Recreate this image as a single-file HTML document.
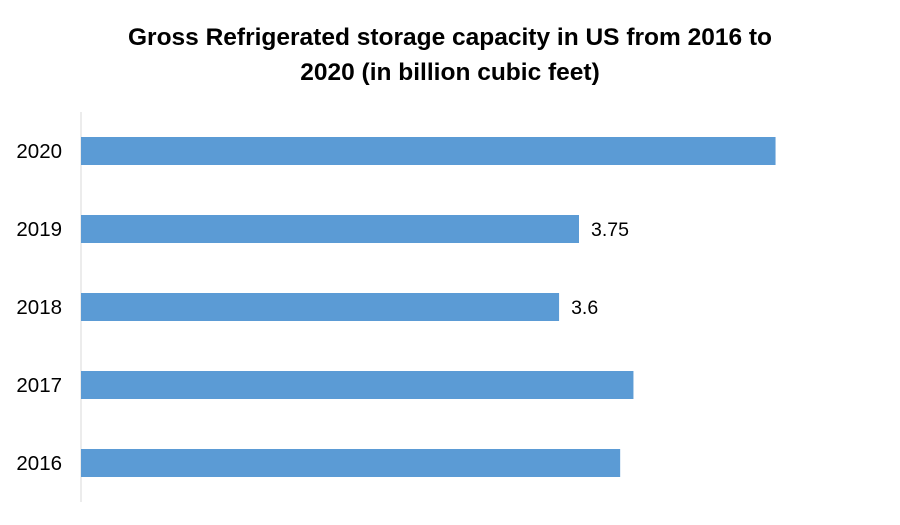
<!DOCTYPE html>
<html><head><meta charset="utf-8"><style>
body{margin:0;background:#fff;}
svg{display:block;font-family:"Liberation Sans",sans-serif;}
</style></head><body>
<svg id="chart" width="900" height="525">
<text x="450" y="45" text-anchor="middle" font-size="24.5" font-weight="bold" fill="#000">Gross Refrigerated storage capacity in US from 2016 to</text>
<text x="450" y="80" text-anchor="middle" font-size="24.5" font-weight="bold" fill="#000">2020 (in billion cubic feet)</text>
<line x1="81" y1="112" x2="81" y2="502" stroke="#d9d9d9" stroke-width="1"/>
<g id="bars"></g>
</svg>
<script>
const categories=["2016","2017","2018","2019","2020"];
const values=[4.06,4.16,3.6,3.75,5.23];
const shownLabels=["","","3.6","3.75",""];
const x0=81,scale=132.8;
function xPos(v){return x0+v*scale;}
function yCenter(i){return 463-i*78;}
const g=document.getElementById('bars');
const ns="http://www.w3.org/2000/svg";
categories.forEach((c,i)=>{
  const r=document.createElementNS(ns,'rect');
  r.setAttribute('x',x0);r.setAttribute('y',yCenter(i)-14);
  r.setAttribute('width',xPos(values[i])-x0);r.setAttribute('height',28);
  r.setAttribute('fill','#5b9bd5');
  
  
  g.appendChild(r);
  const t=document.createElementNS(ns,'text');
  t.setAttribute('x',62);t.setAttribute('y',yCenter(i)+7);
  t.setAttribute('text-anchor','end');t.setAttribute('font-size','20.5');t.setAttribute('fill','#000');
  t.textContent=c;
  
  
  g.appendChild(t);
  if(shownLabels[i]){
    const l=document.createElementNS(ns,'text');
    l.setAttribute('x',xPos(values[i])+12);l.setAttribute('y',yCenter(i)+7);
    l.setAttribute('font-size','19.5');l.setAttribute('fill','#000');
    l.textContent=shownLabels[i];
    
    
    g.appendChild(l);
  }
});
</script>
</body></html>
